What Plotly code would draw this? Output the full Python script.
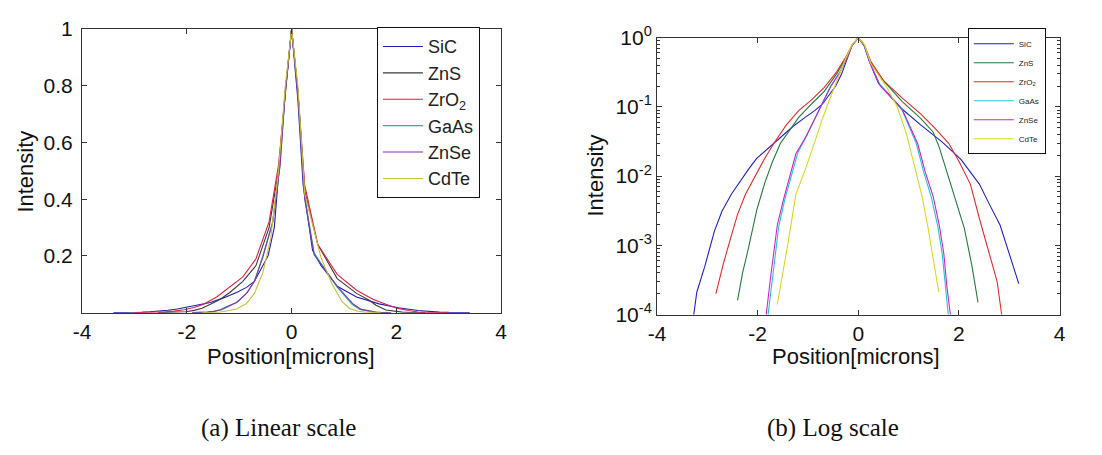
import plotly.graph_objects as go

# Intensity profiles across the spot, position in microns
names = ["SiC", "ZnS", "ZrO<sub>2</sub>", "GaAs", "ZnSe", "CdTe"]

sic_x = [-3.40, -3.27, -3.21, -3.05, -2.86, -2.71, -2.52, -2.36, -2.18, -2.02, -1.80, -1.55, -1.30,
         -1.05, -0.86, -0.71, -0.45, -0.33, -0.12, 0.0, 0.12, 0.22, 0.40, 0.56, 0.87, 1.24, 1.67,
         2.04, 2.41, 2.60, 2.82, 3.00, 3.19, 3.40]
sic_y = [3e-5, 1.0e-4, 2.1e-4, 5.0e-4, 1.6e-3, 3.1e-3, 5.5e-3, 8.3e-3, 1.26e-2, 1.8e-2, 2.5e-2, 3.6e-2,
         5.2e-2, 7.1e-2, 8.9e-2, 0.11, 0.20, 0.30, 0.78, 1.0, 0.75, 0.45, 0.22, 0.166, 0.093, 0.055,
         0.031, 0.0174, 0.0076, 0.0040, 0.00195, 7.6e-4, 2.8e-4, 0.0]

zns_x = [-2.55, -2.40, -2.30, -2.18, -2.02, -1.86, -1.71, -1.55, -1.36, -1.18, -0.93, -0.68, -0.43,
         -0.25, -0.12, 0.0, 0.12, 0.25, 0.50, 0.87, 1.24, 1.49, 1.61, 1.80, 1.98, 2.11, 2.26, 2.38, 2.55]
zns_y = [0.0, 1.6e-4, 4.0e-4, 9.3e-4, 3.2e-3, 7.9e-3, 1.58e-2, 2.95e-2, 4.7e-2, 7.1e-2, 0.11, 0.166,
         0.30, 0.50, 0.78, 1.0, 0.78, 0.43, 0.24, 0.12, 0.068, 0.043, 0.026, 0.0093, 3.6e-3, 1.74e-3,
         5.0e-4, 1.5e-4, 0.0]

zro2_x = [-3.00, -2.83, -2.68, -2.52, -2.40, -2.24, -2.05, -1.86, -1.68, -1.43, -1.18, -0.93, -0.68,
          -0.43, -0.25, -0.12, 0.0, 0.12, 0.25, 0.50, 0.87, 1.24, 1.55, 1.80, 2.01, 2.23, 2.41, 2.60,
          2.76, 2.85, 3.00]
zro2_y = [0.0, 2.0e-4, 5.5e-4, 1.4e-3, 2.8e-3, 5.5e-3, 1.02e-2, 1.8e-2, 2.95e-2, 5.5e-2, 8.9e-2, 0.126,
          0.19, 0.32, 0.52, 0.78, 1.0, 0.78, 0.45, 0.24, 0.135, 0.079, 0.047, 0.0295, 0.0158, 0.0076,
          0.0024, 7.6e-4, 3.0e-4, 1.0e-4, 3e-5]

gaas_x = [-1.88, -1.79, -1.70, -1.58, -1.46, -1.33, -1.20, -1.02, -0.84, -0.70, -0.55, -0.36, -0.22,
          -0.12, 0.0, 0.12, 0.25, 0.43, 0.87, 1.15, 1.30, 1.45, 1.58, 1.67, 1.73, 1.79, 1.86]
gaas_y = [3e-5, 1.0e-4, 3.8e-4, 1.9e-3, 4.6e-3, 1.05e-2, 2.2e-2, 3.9e-2, 7.2e-2, 0.115, 0.20, 0.32,
          0.52, 0.78, 1.0, 0.78, 0.41, 0.21, 0.09, 0.030, 0.0115, 5.0e-3, 1.9e-3, 7.4e-4, 2.6e-4,
          1.0e-4, 3e-5]

znse_x = [-1.90, -1.83, -1.74, -1.61, -1.49, -1.36, -1.24, -1.05, -0.86, -0.71, -0.55, -0.36, -0.22,
          -0.12, 0.0, 0.12, 0.25, 0.43, 0.87, 1.18, 1.33, 1.49, 1.61, 1.70, 1.76, 1.83, 1.90]
znse_y = [3e-5, 1.0e-4, 3.6e-4, 1.95e-3, 4.5e-3, 1.02e-2, 2.1e-2, 3.6e-2, 6.8e-2, 0.11, 0.195, 0.32,
          0.52, 0.78, 1.0, 0.78, 0.40, 0.204, 0.093, 0.0295, 0.0115, 5.0e-3, 1.95e-3, 7.6e-4, 2.6e-4,
          1.0e-4, 3e-5]

cdte_x = [-1.70, -1.61, -1.52, -1.39, -1.24, -1.05, -0.86, -0.71, -0.55, -0.40, -0.25, -0.12, 0.0,
          0.12, 0.25, 0.56, 0.77, 0.96, 1.11, 1.27, 1.39, 1.49, 1.60, 1.70]
cdte_y = [0.0, 1.4e-4, 3.2e-4, 1.15e-3, 5.5e-3, 1.26e-2, 3.2e-2, 6.8e-2, 0.14, 0.26, 0.50, 0.80, 1.0,
          0.80, 0.42, 0.195, 0.102, 0.040, 0.0141, 5.0e-3, 1.74e-3, 6.8e-4, 2.1e-4, 0.0]

xs = [sic_x, zns_x, zro2_x, gaas_x, znse_x, cdte_x]
ys = [sic_y, zns_y, zro2_y, gaas_y, znse_y, cdte_y]

linear_colors = ["#1c1cb4", "#3a3a3a", "#e0204a", "#1fb59a", "#8b2fa8", "#c6c03a"]
log_colors = ["#1f1fc8", "#237a3c", "#e42a2a", "#1ec8c8", "#d21ed2", "#d8d820"]

x_ticks = [-4, -2, 0, 2, 4]
x_ticktext = ["-4", "-2", "0", "2", "4"]
lin_ticks = [0.2, 0.4, 0.6, 0.8, 1.0]
lin_ticktext = ["0.2", "0.4", "0.6", "0.8", "1"]
log_ticks = [1e-4, 1e-3, 1e-2, 1e-1, 1.0]
log_ticktext = ["10<sup>-4</sup>", "10<sup>-3</sup>", "10<sup>-2</sup>", "10<sup>-1</sup>", "10<sup>0</sup>"]

W, H = 1102, 455
FONT = "Liberation Sans, Arial, sans-serif"

fig = go.Figure()

for i, name in enumerate(names):
    fig.add_trace(go.Scatter(
        x=xs[i], y=ys[i], mode="lines", name=name,
        line=dict(color=linear_colors[i], width=1.1),
        xaxis="x", yaxis="y", legend="legend", legendgroup=f"a{i}",
    ))
for i, name in enumerate(names):
    # zero intensities cannot be shown on a log axis: leave a gap there
    log_y = [v if v > 0 else None for v in ys[i]]
    fig.add_trace(go.Scatter(
        x=xs[i], y=log_y, mode="lines", name=name,
        line=dict(color=log_colors[i], width=1.1),
        xaxis="x2", yaxis="y2", legend="legend2", legendgroup=f"b{i}",
    ))

axis_common = dict(
    showline=True, linecolor="#333333", linewidth=1, mirror="ticks",
    ticks="inside", ticklen=5, tickcolor="#333333", showgrid=False, zeroline=False,
    tickfont=dict(family=FONT, size=21, color="#111111"),
)

def px_x(a, b):
    return [a / W, b / W]

def px_y(top, bottom):
    return [1 - bottom / H, 1 - top / H]

minor_vals = [m * 10.0 ** e for e in range(-4, 0) for m in range(2, 10)]

fig.update_layout(
    width=W, height=H,
    margin=dict(l=0, r=0, t=0, b=0),
    paper_bgcolor="white", plot_bgcolor="white",
    xaxis=dict(domain=px_x(74, 499), range=[-4, 4], tickvals=x_ticks, ticktext=x_ticktext,
               anchor="y", **axis_common),
    yaxis=dict(domain=px_y(16, 316), range=[0, 1], tickvals=lin_ticks, ticktext=lin_ticktext,
               anchor="x", ticklabelstandoff=4, **axis_common),
    xaxis2=dict(domain=px_x(657, 1065), range=[-4, 4], tickvals=x_ticks, ticktext=x_ticktext,
                anchor="y2", **axis_common),
    yaxis2=dict(domain=px_y(25, 318), type="log", range=[-4, 0], tickvals=log_ticks,
                ticktext=log_ticktext, anchor="x2",
                minor=dict(tickmode="array", tickvals=minor_vals, ticks="inside", ticklen=3,
                           tickcolor="#333333", showgrid=False),
                **axis_common),
    legend=dict(x=373 / W, y=1 - 14 / H, xanchor="left", yanchor="top",
                bgcolor="white", bordercolor="#111111", borderwidth=1,
                font=dict(family=FONT, size=18, color="#222222"),
                tracegroupgap=0, itemwidth=40),
    legend2=dict(x=972 / W, y=1 - 15 / H, xanchor="left", yanchor="top",
                 bgcolor="white", bordercolor="#111111", borderwidth=1,
                 font=dict(family=FONT, size=8, color="#222222"),
                 tracegroupgap=0, itemwidth=40),
    showlegend=True,
)

label_font = dict(family=FONT, size=22, color="#111111")
caption_font = dict(family="Liberation Serif, Times New Roman, serif", size=25, color="#111111")

annotations = [
    dict(text="Position[microns]", x=286 / W, y=1 - 362 / H, font=label_font),
    dict(text="Position[microns]", x=859 / W, y=1 - 362 / H, font=label_font),
    dict(text="Intensity", x=17 / W, y=1 - 167 / H, textangle=-90, font=label_font),
    dict(text="Intensity", x=595 / W, y=1 - 171 / H, textangle=-90, font=label_font),
    dict(text="(a) Linear scale", x=273 / W, y=1 - 438 / H, font=caption_font),
    dict(text="(b) Log scale", x=835 / W, y=1 - 438 / H, font=caption_font),
]
for a in annotations:
    fig.add_annotation(xref="paper", yref="paper", showarrow=False,
                       xanchor="center", yanchor="middle", **a)

fig.write_html("out.html")
